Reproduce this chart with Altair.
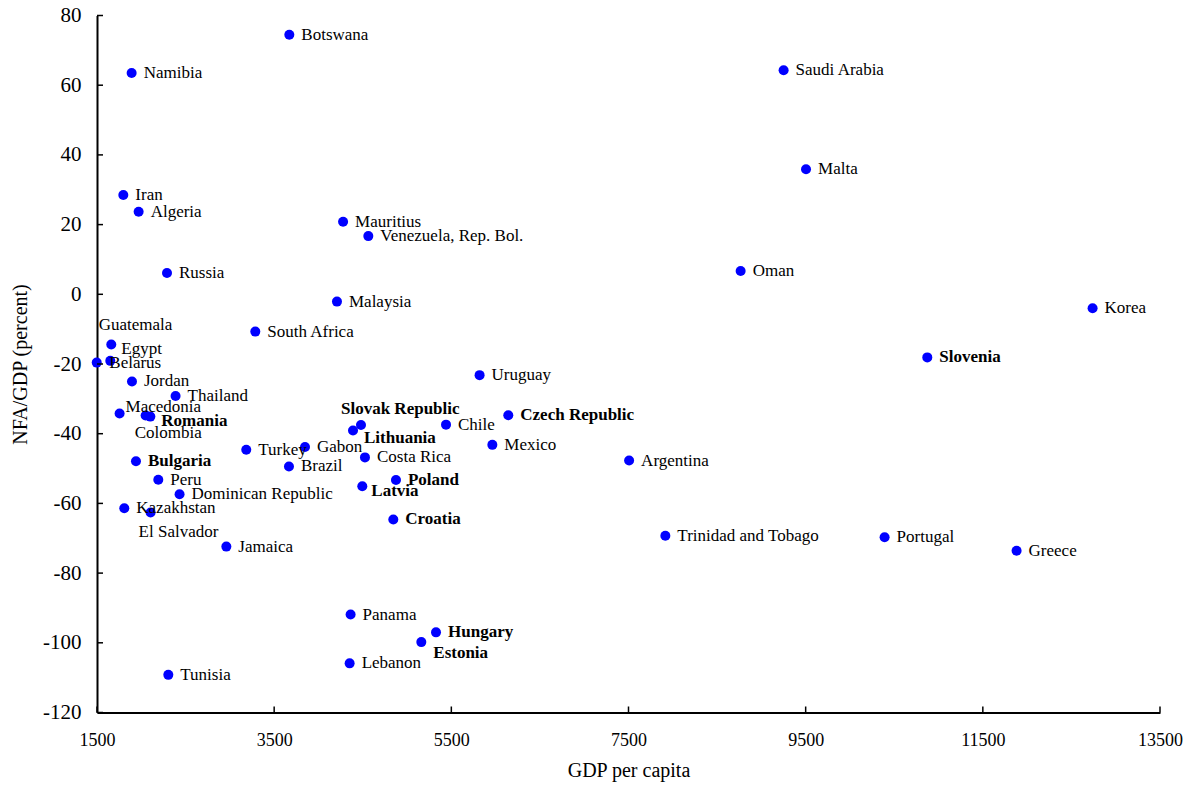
import altair as alt
import pandas as pd

# ---- data ----
countries = [
    "Botswana", "Namibia", "Saudi Arabia", "Malta", "Iran", "Algeria", "Mauritius",
    "Venezuela, Rep. Bol.", "Russia", "Oman", "Malaysia", "Korea", "South Africa",
    "Egypt", "Belarus", "Guatemala", "Jordan", "Thailand", "Macedonia", "Colombia",
    "Romania", "Bulgaria", "Peru", "Dominican Republic", "Kazakhstan", "El Salvador",
    "Turkey", "Gabon", "Brazil", "Slovak Republic", "Lithuania", "Chile", "Costa Rica",
    "Poland", "Latvia", "Croatia", "Panama", "Hungary", "Estonia", "Lebanon", "Tunisia",
    "Jamaica", "Uruguay", "Czech Republic", "Mexico", "Argentina", "Trinidad and Tobago",
    "Portugal", "Greece", "Slovenia",
]
gdp_per_capita = [
    3671, 1891, 9251, 9504, 1797, 1970, 4278,
    4563, 2290, 8766, 4209, 12739, 3287,
    1661, 1650, 1497, 1895, 2387, 1755, 2049,
    2102, 1940, 2192, 2432, 1808, 2105,
    3185, 3848, 3667, 4480, 4390, 5440, 4525,
    4875, 4495, 4845, 4363, 5327, 5161, 4352, 2305,
    2960, 5819, 6143, 5963, 7507, 7916,
    10391, 11881, 10873,
]
nfa_gdp = [
    74.5, 63.5, 64.3, 35.9, 28.5, 23.7, 20.8,
    16.7, 6.1, 6.7, -2.1, -4.0, -10.7,
    -14.4, -19.1, -19.6, -25.0, -29.2, -34.2, -34.8,
    -35.1, -47.9, -53.2, -57.4, -61.4, -62.6,
    -44.6, -43.8, -49.4, -37.5, -39.1, -37.4, -46.8,
    -53.3, -55.1, -64.6, -91.9, -97.0, -99.8, -105.9, -109.2,
    -72.4, -23.2, -34.7, -43.2, -47.7, -69.3,
    -69.7, -73.6, -18.1,
]
bold_countries = [
    "Slovenia", "Czech Republic", "Slovak Republic", "Lithuania", "Romania",
    "Bulgaria", "Poland", "Latvia", "Croatia", "Hungary", "Estonia",
]

x_ticks = [1500, 3500, 5500, 7500, 9500, 11500, 13500]
y_ticks = [-120, -100, -80, -60, -40, -20, 0, 20, 40, 60, 80]

# label placement (pixel offsets from the point), default is to the right
DEFAULT_OFFSET = (12, 0)
label_offsets = {
    "Guatemala": (2, -38),
    "Egypt": (10, 5),
    "Belarus": (-1, 2),
    "Macedonia": (6, -6),
    "Romania": (11, 4),
    "Colombia": (-11, 17),
    "El Salvador": (-12, 20),
    "Slovak Republic": (-20, -16),
    "Lithuania": (11, 7),
    "Latvia": (9, 5),
    "Estonia": (12, 11),
}

W, H = 1063, 697
FONT = "Liberation Serif"
LABEL_EXPR = "(datum.value < 0 ? '-' : '') + format(abs(datum.value), 'd')"

df = pd.DataFrame({"country": countries, "gdp": gdp_per_capita, "nfa": nfa_gdp})
df["bold"] = df["country"].isin(bold_countries)
df["offset"] = df["country"].map(lambda c: label_offsets.get(c, DEFAULT_OFFSET))

xscale = alt.Scale(domain=[1500, 13500], nice=False, zero=False)
yscale = alt.Scale(domain=[-120, 80], nice=False, zero=False)

x_axis = alt.Axis(values=x_ticks, title="GDP per capita", labelFontSize=18,
                  labelPadding=19, titlePadding=11, labelFlush=False,
                  labelExpr=LABEL_EXPR)
y_axis = alt.Axis(values=y_ticks, title="NFA/GDP (percent)", labelFontSize=21,
                  labelPadding=16, titlePadding=12, labelFlush=False,
                  labelExpr=LABEL_EXPR)

points = alt.Chart(df).mark_circle(size=100, color="#0000FF", opacity=1).encode(
    x=alt.X("gdp:Q", scale=xscale, axis=x_axis),
    y=alt.Y("nfa:Q", scale=yscale, axis=y_axis),
)

tick_x = alt.Chart(pd.DataFrame({"gdp": x_ticks})).mark_rule(color="black", strokeWidth=1.5).encode(
    x=alt.X("gdp:Q", scale=xscale, axis=x_axis),
    y=alt.value(H), y2=alt.value(H - 6),
)
tick_y = alt.Chart(pd.DataFrame({"nfa": y_ticks})).mark_rule(color="black", strokeWidth=1.5).encode(
    y=alt.Y("nfa:Q", scale=yscale, axis=y_axis),
    x=alt.value(0), x2=alt.value(6),
)

layers = [points, tick_x, tick_y]

groups = {}
for name, off, b in zip(df["country"], df["offset"], df["bold"]):
    groups.setdefault((off[0], off[1], bool(b)), []).append(name)

for (dx, dy, b), names in groups.items():
    layers.append(
        alt.Chart(df).transform_filter(
            alt.FieldOneOfPredicate(field="country", oneOf=names)
        ).mark_text(
            align="left", baseline="middle", dx=dx, dy=dy, font=FONT, fontSize=17,
            color="black", fontWeight="bold" if b else "normal",
        ).encode(
            x=alt.X("gdp:Q", scale=xscale, axis=x_axis),
            y=alt.Y("nfa:Q", scale=yscale, axis=y_axis),
            text="country:N",
        )
    )

chart = alt.layer(*layers).properties(
    width=W, height=H,
    autosize=alt.AutoSizeParams(type="none"),
    padding={"left": 89, "top": 7.5, "right": 26, "bottom": 70.5},
).configure_view(stroke=None).configure_axis(
    grid=False, ticks=False, domainColor="black", domainWidth=2,
    labelFont=FONT, titleFont=FONT, labelColor="black", titleColor="black",
    titleFontSize=20, titleFontWeight="normal",
)

chart.save("out.html", embed_options={"renderer": "svg", "actions": False})
